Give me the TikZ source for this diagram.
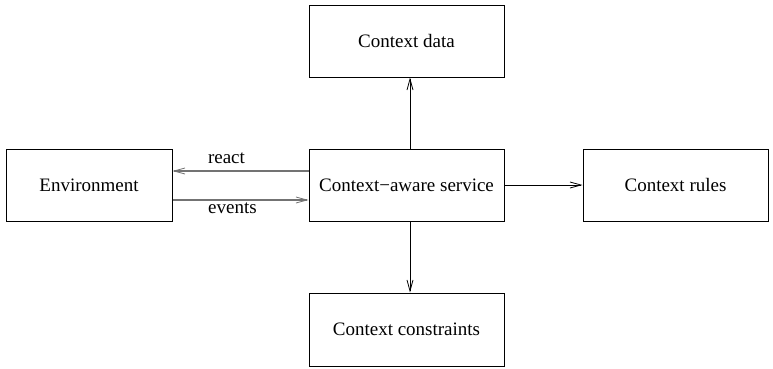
\documentclass[tikz,border=0pt]{standalone}
\usepackage{fontspec}
\setmainfont{Liberation Serif}
\usetikzlibrary{arrows.meta}
\begin{document}
\begin{tikzpicture}[x=1pt,y=1pt,
  box/.style={draw=black, line width=1pt, minimum height=72pt, inner sep=0pt,
    font=\fontsize{19}{22}\selectfont},
  lbl/.style={inner sep=0pt, anchor=base, font=\fontsize{19}{22}\selectfont},
  link/.style={line width=0.9pt, -{Straight Barb[length=11pt,width=6pt,line width=0.8pt]}},
  grey link/.style={link, line width=1.3pt, draw=black!55}]
\useasboundingbox (0,0) rectangle (773,368);
% boxes
\node[box, minimum width=195pt] (data) at (406.5,327) {Context data};
\node[box, minimum width=166pt] (env)  at (89,183) {Environment};
\node[box, minimum width=195pt] (svc)  at (406.5,183) {Context−aware service};
\node[box, minimum width=185pt] (rules) at (675.5,183) {Context rules};
\node[box, minimum width=195pt, minimum height=73pt] (cons) at (406.5,38.5) {Context constraints};
% connectors
\draw[grey link] ([yshift=14pt]svc.west) -- ([yshift=14pt]env.east);
\draw[grey link] ([yshift=-15pt]env.east) -- ([yshift=-15pt]svc.west);
\draw[link] ([xshift=3.5pt]svc.north) -- ([xshift=3.5pt]data.south);
\draw[link] ([xshift=3.5pt]svc.south) -- ([xshift=3.5pt]cons.north);
\draw[link] (svc.east) -- (rules.west);
% labels
\node[lbl] (react) at (226.5,205) {react};
\node[lbl] (events) at (232.5,155) {events};
\end{tikzpicture}
\end{document}
